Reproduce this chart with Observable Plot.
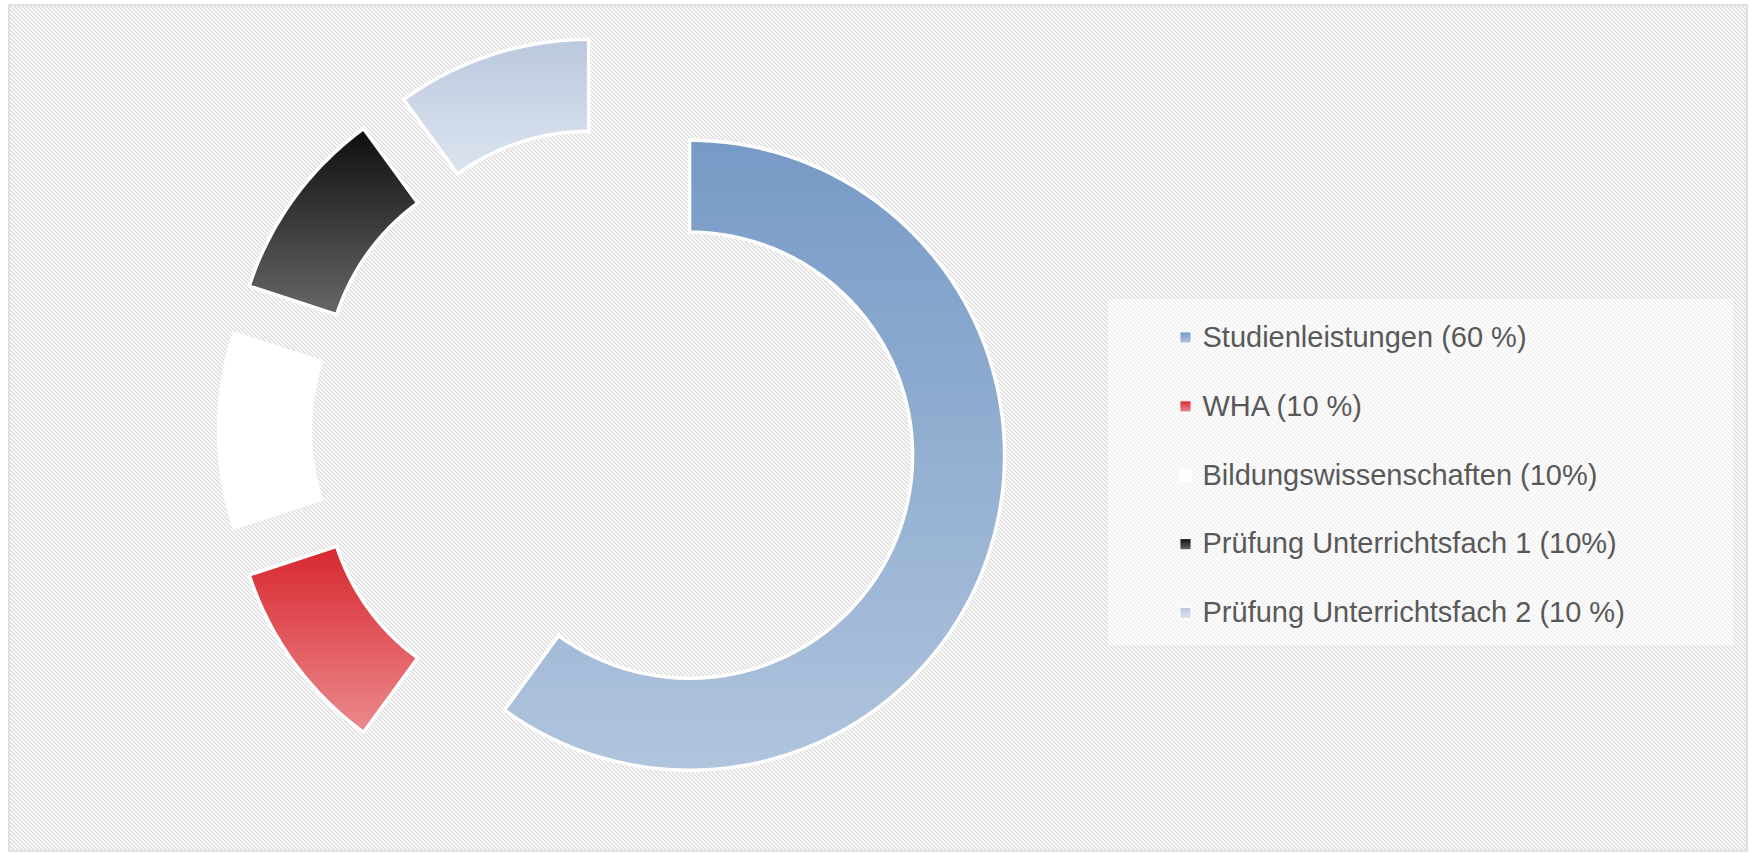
<!DOCTYPE html>
<html>
<head>
<meta charset="utf-8">
<script src="https://cdn.jsdelivr.net/npm/d3@7"></script>
<script src="https://cdn.jsdelivr.net/npm/@observablehq/plot@0.6"></script>
<style>
  html, body { margin: 0; padding: 0; background: #ffffff; }
  #chart svg { display: block; }
</style>
</head>
<body>
<div id="chart"></div>
<script>
// ---- data ----
const categories = ["Studienleistungen", "WHA", "Bildungswissenschaften", "Prüfung Unterrichtsfach 1", "Prüfung Unterrichtsfach 2"];
const values = [60, 10, 10, 10, 10];
const legendLabels = ["Studienleistungen (60 %)", "WHA (10 %)", "Bildungswissenschaften (10%)", "Prüfung Unterrichtsfach 1 (10%)", "Prüfung Unterrichtsfach 2 (10 %)"];
const gradTop = ["#769ac6", "#d8272f", "#ffffff", "#0e0e0e", "#bbc9de"];
const gradBottom = ["#b0c4dd", "#eb8a8e", "#ffffff", "#676767", "#dce4ef"];

// ---- layout ----
const W = 1750, H = 854;
const cx = 613, cy = 430;           // pie centre (px)
const R = 315, r = 223;             // outer / inner radius
const explode = 80;                 // slice explosion distance
const legendSwatchX = 1185, legendTextX = 1202, legendTop = 337, legendStep = 68.9;
const legendBox = {x1: 1108, x2: 1733, y1: 299, y2: 645};

// ---- slice geometry from values ----
const total = d3.sum(values);
const slices = [];
let acc = 0;
values.forEach((v, i) => {
  const a0 = acc / total * 2 * Math.PI;
  acc += v;
  const a1 = acc / total * 2 * Math.PI;
  const mid = (a0 + a1) / 2;
  const ox = explode * Math.sin(mid), oy = -explode * Math.cos(mid);
  const n = Math.max(8, Math.round((a1 - a0) / (Math.PI / 180)));
  const pts = [];
  for (let k = 0; k <= n; k++) {
    const a = a0 + (a1 - a0) * k / n;
    pts.push({slice: i, x: ox + R * Math.sin(a), y: oy - R * Math.cos(a)});
  }
  for (let k = n; k >= 0; k--) {
    const a = a0 + (a1 - a0) * k / n;
    pts.push({slice: i, x: ox + r * Math.sin(a), y: oy - r * Math.cos(a)});
  }
  slices.push(pts);
});

const legendRows = categories.map((c, i) => ({
  i, label: legendLabels[i],
  sx: legendSwatchX - cx, tx: legendTextX - cx, y: legendTop + i * legendStep - cy
}));

const marks = [
  // hatched background + border
  Plot.rect([0], {x1: () => 9 - cx, x2: () => W - 3 - cx, y1: () => 5 - cy, y2: () => H - 3 - cy,
    fill: "url(#hatch)", stroke: "#d9d9d9", strokeWidth: 1.5}),
  // legend background
  Plot.rect([0], {x1: () => legendBox.x1 - cx, x2: () => legendBox.x2 - cx, y1: () => legendBox.y1 - cy, y2: () => legendBox.y2 - cy,
    fill: "white", fillOpacity: 0.6})
];
slices.forEach((pts, i) => {
  marks.push(Plot.line(pts, {x: "x", y: "y", curve: "linear-closed", fill: `url(#g${i})`,
    stroke: "white", strokeWidth: 3.5, strokeLinejoin: "miter", strokeMiterlimit: 10}));
});
legendRows.forEach((d, i) => {
  marks.push(Plot.dot([d], {x: "sx", y: "y", symbol: "square", r: 6.3, fill: `url(#g${i})`,
    stroke: "white", strokeWidth: 1}));
});
marks.push(Plot.text(legendRows, {x: "tx", y: "y", text: "label", textAnchor: "start",
  fontSize: 29, fill: "#595959", fontFamily: "Liberation Sans, Arial, sans-serif"}));

const svg = Plot.plot({
  width: W, height: H,
  margin: 0,
  x: {domain: [-cx, W - cx], range: [0, W], axis: null},
  y: {domain: [-cy, H - cy], range: [0, H], axis: null},
  style: {background: "white", fontFamily: "Liberation Sans, Arial, sans-serif"},
  marks
});

// gradient + pattern definitions
const defs = d3.select(svg).insert("defs", ":first-child");
gradTop.forEach((c, i) => {
  const g = defs.append("linearGradient").attr("id", `g${i}`)
    .attr("x1", 0).attr("y1", 0).attr("x2", 0).attr("y2", 1);
  g.append("stop").attr("offset", "0%").attr("stop-color", c);
  g.append("stop").attr("offset", "100%").attr("stop-color", gradBottom[i]);
});
const pat = defs.append("pattern").attr("id", "hatch").attr("width", 4).attr("height", 4)
  .attr("patternUnits", "userSpaceOnUse");
pat.append("rect").attr("width", 4).attr("height", 4).attr("fill", "#ffffff");
pat.append("path").attr("d", "M-1,-1L5,5M-1,3L1,5M3,-1L5,1")
  .attr("stroke", "#dddddd").attr("stroke-width", 1.5);

document.getElementById("chart").appendChild(svg);
</script>
</body>
</html>
